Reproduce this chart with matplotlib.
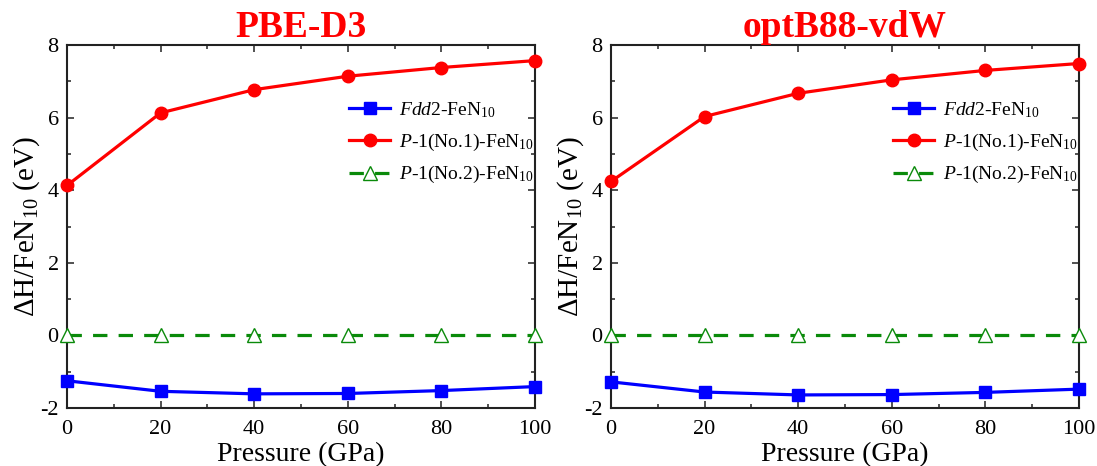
import matplotlib
matplotlib.use("Agg")
import matplotlib.pyplot as plt
from matplotlib.ticker import MultipleLocator

plt.rcParams['font.family'] = ['Liberation Serif', 'DejaVu Serif']
plt.rcParams['mathtext.fontset'] = 'custom'
plt.rcParams['mathtext.rm'] = 'Liberation Serif'
plt.rcParams['mathtext.it'] = 'Liberation Serif:italic'
plt.rcParams['mathtext.bf'] = 'Liberation Serif:bold'
plt.rcParams['axes.unicode_minus'] = False

pressure = [0, 20, 40, 60, 80, 100]

titles = ["PBE-D3", "optB88-vdW"]
fdd2_pbe = [-1.25, -1.54, -1.61, -1.60, -1.52, -1.41]
p1no1_pbe = [4.13, 6.13, 6.77, 7.14, 7.38, 7.57]
p1no2_pbe = [0, 0, 0, 0, 0, 0]

fdd2_opt = [-1.28, -1.56, -1.64, -1.63, -1.57, -1.48]
p1no1_opt = [4.24, 6.03, 6.67, 7.04, 7.30, 7.49]
p1no2_opt = [0, 0, 0, 0, 0, 0]

labels = [r'$\mathit{Fdd}$2-FeN$_{10}$',
          r'$\mathit{P}$-1(No.1)-FeN$_{10}$',
          r'$\mathit{P}$-1(No.2)-FeN$_{10}$']

data = [(fdd2_pbe, p1no1_pbe, p1no2_pbe), (fdd2_opt, p1no1_opt, p1no2_opt)]

fig = plt.figure(figsize=(10.97, 4.66), dpi=100)
lefts = [67/1097, 611/1097]
for i, left in enumerate(lefts):
    ax = fig.add_axes([left, 1 - 408/466, 468/1097, 363/466])
    fdd, p1, p2 = data[i]
    ax.plot(pressure, fdd, color='#0000ff', lw=2.3, marker='s', ms=8.5,
            label=labels[0], clip_on=False, zorder=3)
    ax.plot(pressure, p1, color='#ff0000', lw=2.3, marker='o', ms=9,
            label=labels[1], clip_on=False, zorder=3)
    ax.plot(pressure, p2, color='#0a8a0a', lw=2.3, ls=(0, (4.5, 3.5)), marker='^',
            ms=10, mfc='white', mec='#0a8a0a', mew=1.0,
            label=labels[2], clip_on=False, zorder=3)
    ax.set_xlim(0, 100)
    ax.set_ylim(-2, 8)
    ax.xaxis.set_major_locator(MultipleLocator(20))
    ax.xaxis.set_minor_locator(MultipleLocator(10))
    ax.yaxis.set_major_locator(MultipleLocator(2))
    ax.yaxis.set_minor_locator(MultipleLocator(1))
    ax.tick_params(which='both', direction='in', top=True, right=True,
                   labelsize=16, width=1.2, color='#333333')
    ax.tick_params(which='major', length=5)
    ax.tick_params(axis='x', which='major', pad=9)
    ax.tick_params(axis='y', which='major', pad=6)
    ax.tick_params(which='minor', length=3)
    for s in ax.spines.values():
        s.set_linewidth(1.5)
        s.set_color('#222222')
    ax.set_xlabel('Pressure (GPa)', fontsize=20, labelpad=2)
    ax.set_ylabel(r'ΔH/FeN$_{10}$ (eV)', fontsize=21, labelpad=-1)
    ax.set_title(titles[i], color='#ff0000', fontsize=27, fontweight='bold', pad=1)
    ax.legend(loc='upper left', bbox_to_anchor=(0.603, 0.848), frameon=False,
              fontsize=14, handlelength=2.1, handletextpad=0.45,
              labelspacing=0.6, borderaxespad=0.0, borderpad=0.0)

fig.savefig('out.png', dpi=100)
